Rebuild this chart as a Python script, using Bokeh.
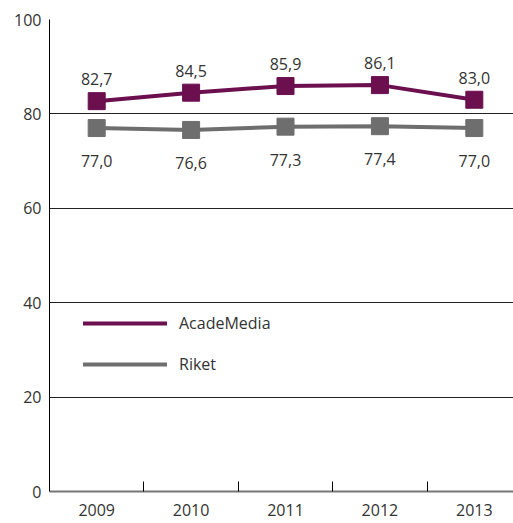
from bokeh.plotting import figure
from bokeh.models import (Range1d, FixedTicker, ColumnDataSource, Legend, LegendItem, Grid)
from bokeh.core.properties import value
from bokeh.embed import file_html
from bokeh.resources import INLINE

years = ["2009", "2010", "2011", "2012", "2013"]
academedia = [82.7, 84.5, 85.9, 86.1, 83.0]
riket = [77.0, 76.6, 77.3, 77.4, 77.0]
y_ticks = [0, 20, 40, 60, 80, 100]

FONT = "Open Sans"
PURPLE = "#6b0f4f"
GREY = "#6e6e6e"
TXT = "#333333"
FS = "16px"

xs = list(range(len(years)))
fmt = lambda v: f"{v:.1f}".replace(".", ",")
src_a = ColumnDataSource(dict(x=xs, y=academedia, lab=[fmt(v) for v in academedia]))
src_r = ColumnDataSource(dict(x=xs, y=riket, lab=[fmt(v) for v in riket]))

p = figure(width=513, height=523, output_backend="svg", toolbar_location=None,
           x_range=Range1d(-0.5, 4.415), y_range=Range1d(0, 100),
           min_border_left=49, min_border_top=19, min_border_right=0, min_border_bottom=32)
p.outline_line_color = None
p.background_fill_color = "white"

# axes
p.xaxis.ticker = FixedTicker(ticks=xs, minor_ticks=[0.5, 1.5, 2.5, 3.5])
p.xaxis.major_label_overrides = {i: y for i, y in enumerate(years)}
p.xaxis.major_tick_in = 0
p.xaxis.major_tick_out = 0
p.xaxis.minor_tick_in = 10
p.xaxis.minor_tick_out = 0
p.xaxis.minor_tick_line_color = "black"
p.xaxis.minor_tick_line_width = 1
p.xaxis.axis_line_color = "#777777"
p.xaxis.axis_line_width = 2
p.xaxis.major_label_standoff = 12
p.xaxis.major_label_text_font = FONT
p.xaxis.major_label_text_font_size = FS
p.xaxis.major_label_text_color = TXT

p.yaxis.ticker = FixedTicker(ticks=y_ticks)
p.yaxis.major_tick_in = 0
p.yaxis.major_tick_out = 0
p.yaxis.minor_tick_line_color = None
p.yaxis.axis_line_color = "black"
p.yaxis.axis_line_width = 1
p.yaxis.major_label_standoff = 8
p.yaxis.major_label_text_font = FONT
p.yaxis.major_label_text_font_size = FS
p.yaxis.major_label_text_color = TXT

p.xgrid.grid_line_color = None
p.ygrid.ticker = FixedTicker(ticks=[20, 40, 60, 80])
p.ygrid.grid_line_color = "#222222"
p.ygrid.grid_line_width = 1
top_grid = Grid(dimension=1, ticker=FixedTicker(ticks=[100]),
                grid_line_color="#6e6e6e", grid_line_width=2)
p.add_layout(top_grid, "center")

# series
lr = p.line("x", "y", source=src_r, line_color=GREY, line_width=4, line_cap="round")
p.scatter("x", "y", source=src_r, marker="square", size=17, fill_color=GREY, line_color=GREY)
la = p.line("x", "y", source=src_a, line_color=PURPLE, line_width=4, line_cap="round")
p.scatter("x", "y", source=src_a, marker="square", size=17, fill_color=PURPLE, line_color=PURPLE)

p.text("x", "y", text="lab", source=src_a, text_align="center", text_baseline="middle",
       y_offset=-22, text_font=value(FONT), text_font_size=FS, text_color=TXT)
p.text("x", "y", text="lab", source=src_r, text_align="center", text_baseline="middle",
       y_offset=33, text_font=value(FONT), text_font_size=FS, text_color=TXT)

legend = Legend(items=[LegendItem(label="AcadeMedia", renderers=[la]),
                       LegendItem(label="Riket", renderers=[lr])],
                location=(34, 116), orientation="vertical",
                glyph_width=84, glyph_height=20, label_standoff=12, spacing=19,
                padding=0, margin=0, border_line_color=None, background_fill_alpha=0,
                label_text_font=FONT, label_text_font_size=FS, label_text_color=TXT)
p.add_layout(legend, "center")

open("out.html", "w").write(file_html(p, INLINE))
